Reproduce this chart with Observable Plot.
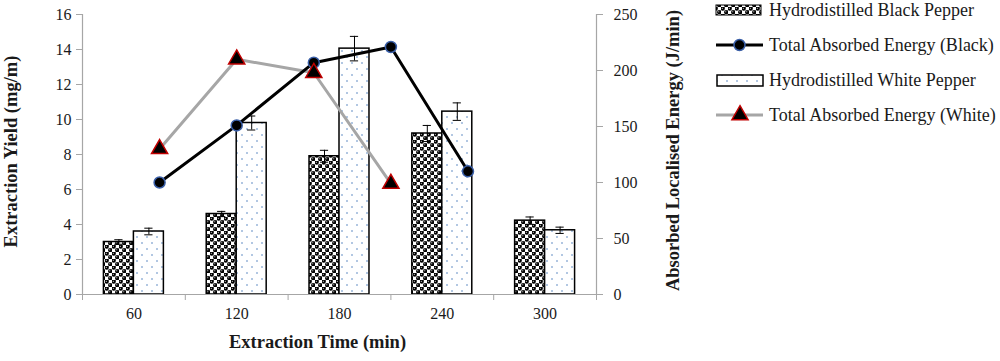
<!DOCTYPE html>
<html><head><meta charset="utf-8">
<script src="https://cdn.jsdelivr.net/npm/d3@7"></script>
<script src="https://cdn.jsdelivr.net/npm/@observablehq/plot@0.6"></script>
<style>
body{margin:0;background:#fff;font-family:"Liberation Serif",serif;}
#wrap{position:relative;width:1000px;height:361px;}
#chart{position:absolute;left:0;top:0;}
#legend{position:absolute;left:700px;top:0;}
</style></head><body>
<svg width="0" height="0" style="position:absolute">
<defs>
<pattern id="blackPat" width="7" height="7" patternUnits="userSpaceOnUse">
<rect width="7" height="7" fill="#fff"/>
<circle cx="1.75" cy="1.75" r="2.1" fill="#000"/>
<circle cx="5.25" cy="5.25" r="2.1" fill="#000"/>
<rect x="0" y="0" width="3.5" height="1.2" fill="#000"/>
<rect x="3.5" y="3.5" width="3.5" height="1.2" fill="#000"/>
<circle cx="1.3" cy="1.3" r="0.55" fill="#fff"/>
<circle cx="4.8" cy="4.8" r="0.55" fill="#fff"/>
</pattern>
<pattern id="whitePat" width="10" height="12" patternUnits="userSpaceOnUse">
<rect width="10" height="12" fill="#fff"/>
<circle cx="2" cy="3" r="0.8" fill="#4f81bd"/>
<circle cx="7" cy="9" r="0.8" fill="#4f81bd"/>
</pattern>
</defs></svg>
<div id="wrap"><div id="chart"></div><svg id="legend" width="300" height="140"></svg></div>
<script>
// ---- data ----
const times = [60, 120, 180, 240, 300];
const blackYield = [3.0, 4.6, 7.9, 9.2, 4.22];
const blackErr = [0.13, 0.15, 0.34, 0.46, 0.21];
const whiteYield = [3.6, 9.8, 14.05, 10.45, 3.67];
const whiteErr = [0.19, 0.4, 0.7, 0.5, 0.18];
const lineTimes = [75, 120, 165, 210, 255];
const blackEnergy = [100, 151, 207, 221, 110];
const whiteEnergy = [130, 210, 198, 99];
const yieldTicks = [0, 2, 4, 6, 8, 10, 12, 14, 16];
const energyTicks = [0, 50, 100, 150, 200, 250];
const separatorTicks = [30, 90, 150, 210, 270, 330];
const seriesNames = ["Hydrodistilled Black Pepper", "Total Absorbed Energy (Black)", "Hydrodistilled White Pepper", "Total Absorbed Energy (White)"];
const xTitle = "Extraction Time (min)";
const yTitle = "Extraction Yield (mg/m)";
const y2Title = "Absorbed Localised Energy (J/min)";

// ---- derived tables ----
const k = 16 / 250; // energy -> yield axis
const barW = 17.5;  // bar width in minutes
const cap = 2.4;
const gray = "#a6a6a6";
const blackRows = times.map((t, i) => ({t, v: blackYield[i], e: blackErr[i], c: t - barW / 2}));
const whiteRows = times.map((t, i) => ({t, v: whiteYield[i], e: whiteErr[i], c: t + barW / 2}));
const blackLine = blackEnergy.map((e, i) => ({t: lineTimes[i], e}));
const whiteLine = whiteEnergy.map((e, i) => ({t: lineTimes[i], e}));

const errMarks = rows => [
  Plot.ruleX(rows, {x: d => d.c, y1: d => d.v - d.e, y2: d => d.v + d.e, stroke: "#000", strokeWidth: 1}),
  Plot.ruleY(rows, {y: d => d.v + d.e, x1: d => d.c - cap, x2: d => d.c + cap, stroke: "#000", strokeWidth: 1}),
  Plot.ruleY(rows, {y: d => d.v - d.e, x1: d => d.c - cap, x2: d => d.c + cap, stroke: "#000", strokeWidth: 1})
];

const chart = Plot.plot({
  width: 700, height: 361,
  marginLeft: 82, marginRight: 104, marginTop: 14, marginBottom: 67,
  style: {fontFamily: "Liberation Serif", fontSize: "16px", color: "#1a1a1a", background: "transparent"},
  x: {type: "linear", domain: [30, 330], axis: null},
  y: {domain: [0, 16], axis: null},
  marks: [
    Plot.rectY(blackRows, {x1: d => d.t - barW, x2: d => d.t, y1: 0, y2: d => d.v, fill: "url(#blackPat)", stroke: "#000", strokeWidth: 1.5}),
    Plot.rectY(whiteRows, {x1: d => d.t, x2: d => d.t + barW, y1: 0, y2: d => d.v, fill: "url(#whitePat)", stroke: "#000", strokeWidth: 1.5}),
    ...errMarks(blackRows),
    ...errMarks(whiteRows),
    Plot.ruleY([0], {stroke: gray, strokeWidth: 1.2}),
    Plot.ruleX([30, 330], {stroke: gray, strokeWidth: 1.2}),
    Plot.axisX({ticks: separatorTicks, tickSize: 6, tickFormat: () => "", stroke: gray, label: null}),
    Plot.axisX({ticks: times, tickSize: 0, tickPadding: 13, fontSize: 16, label: null, fill: "#1a1a1a"}),
    Plot.axisY({ticks: yieldTicks, tickSize: 6, tickPadding: 5, stroke: gray, fill: "#1a1a1a", fontSize: 16, label: null}),
    Plot.axisY({anchor: "right", ticks: energyTicks.map(e => e * k), tickFormat: d => Math.round(d / k), tickSize: 6, tickPadding: 11, stroke: gray, fill: "#1a1a1a", fontSize: 16, textAnchor: "start", label: null}),
    Plot.line(whiteLine, {x: "t", y: d => d.e * k, stroke: gray, strokeWidth: 3}),
    Plot.line(blackLine, {x: "t", y: d => d.e * k, stroke: "#000", strokeWidth: 3}),
    Plot.dot(blackLine, {x: "t", y: d => d.e * k, r: 5.5, fill: "#000", stroke: "#3a5fa8", strokeWidth: 1.5}),
    Plot.dot(whiteLine, {x: "t", y: d => d.e * k, r: 6, symbol: "triangle", fill: "#000", stroke: "#c00000", strokeWidth: 1.5}),
    Plot.text([xTitle], {frameAnchor: "bottom", textAnchor: "middle", lineAnchor: "middle", dx: -22, dy: 48, fontWeight: "bold", fontSize: 18.5, fill: "#1a1a1a"}),
    Plot.text([yTitle], {frameAnchor: "left", textAnchor: "middle", lineAnchor: "middle", dx: -71, dy: -3, rotate: -90, fontWeight: "bold", fontSize: 18.5, fill: "#1a1a1a"}),
    Plot.text([y2Title], {frameAnchor: "right", textAnchor: "middle", lineAnchor: "middle", dx: 77, dy: -4, rotate: -90, fontWeight: "bold", fontSize: 18.5, fill: "#1a1a1a"})
  ]
});
document.getElementById("chart").appendChild(chart);

// ---- legend ----
const lg = d3.select("#legend");
const rowsY = [10, 45, 80, 115];
lg.append("rect").attr("x", 16).attr("y", 5).attr("width", 45).attr("height", 10).attr("fill", "url(#blackPat)").attr("stroke", "#000").attr("stroke-width", 1);
lg.append("line").attr("x1", 16).attr("x2", 63).attr("y1", 45).attr("y2", 45).attr("stroke", "#000").attr("stroke-width", 3);
lg.append("circle").attr("cx", 39.5).attr("cy", 45).attr("r", 5.5).attr("fill", "#000").attr("stroke", "#3a5fa8").attr("stroke-width", 1.5);
lg.append("rect").attr("x", 17).attr("y", 75).attr("width", 46).attr("height", 11).attr("fill", "url(#whitePat)").attr("stroke", "#000").attr("stroke-width", 1.5);
lg.append("line").attr("x1", 16).attr("x2", 63).attr("y1", 115).attr("y2", 115).attr("stroke", gray).attr("stroke-width", 3);
lg.append("path").attr("d", d3.symbol(d3.symbolTriangle, Math.PI * 36)()).attr("transform", "translate(40,115)").attr("fill", "#000").attr("stroke", "#c00000").attr("stroke-width", 1.5);
lg.selectAll("text.lab").data(seriesNames).join("text").attr("class", "lab")
  .attr("x", 69).attr("y", (d, i) => rowsY[i]).attr("dy", "0.35em")
  .attr("font-family", "Liberation Serif").attr("font-size", 18).attr("fill", "#1a1a1a").text(d => d);
</script>
</body></html>
